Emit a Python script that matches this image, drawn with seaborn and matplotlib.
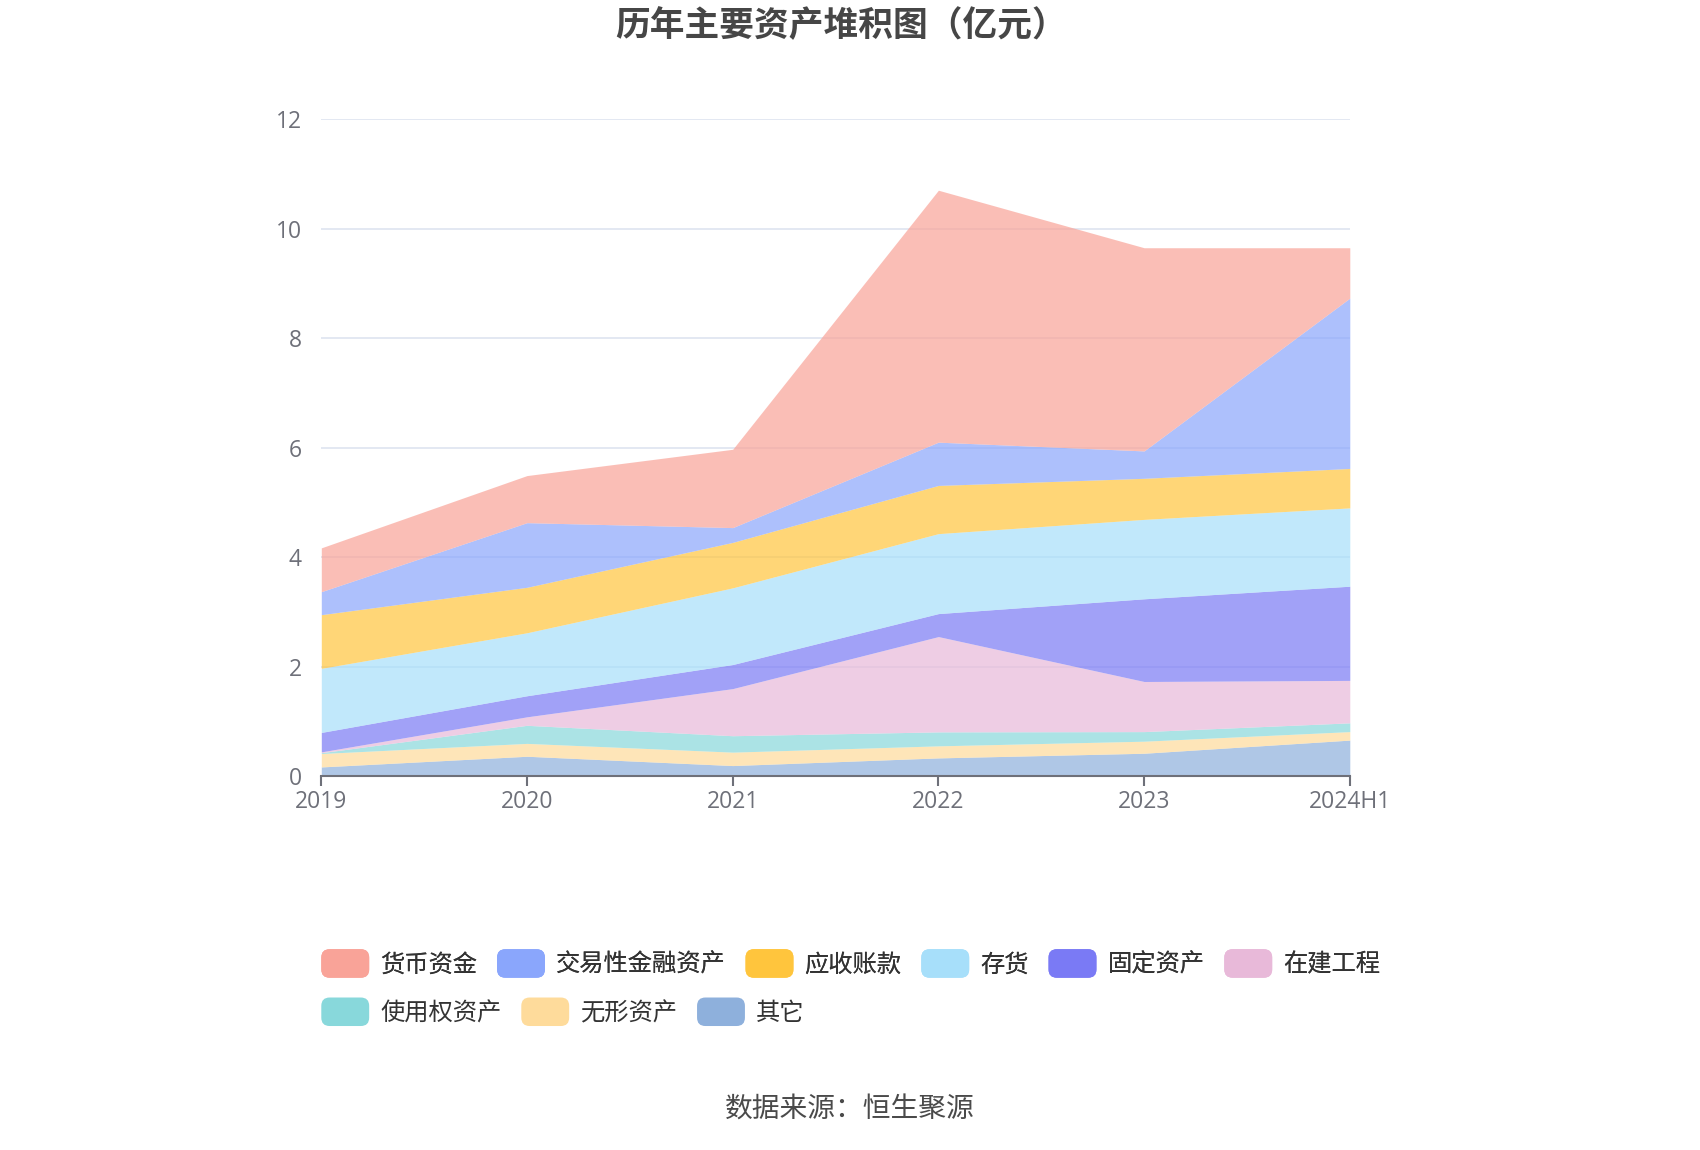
"""
历年主要资产堆积图 - stacked area chart of main assets by year.
"""

import matplotlib
matplotlib.use("Agg")
import matplotlib.pyplot as plt
from matplotlib.patches import FancyBboxPatch, Patch
from matplotlib.legend_handler import HandlerPatch
import seaborn as sns

years = ["2019", "2020", "2021", "2022", "2023", "2024H1"]

# values in 亿元, bottom of the stack first
other = [0.17, 0.365, 0.195, 0.335, 0.42, 0.66]
intangible = [0.245, 0.235, 0.245, 0.22, 0.22, 0.155]
right_of_use = [0.015, 0.33, 0.30, 0.255, 0.175, 0.16]
construction = [0.015, 0.155, 0.86, 1.74, 0.915, 0.775]
fixed_assets = [0.355, 0.385, 0.44, 0.42, 1.51, 1.72]
inventory = [1.17, 1.15, 1.40, 1.46, 1.45, 1.43]
receivables = [0.98, 0.83, 0.83, 0.88, 0.75, 0.72]
trading_fin = [0.42, 1.18, 0.27, 0.79, 0.50, 3.11]
cash = [0.80, 0.86, 1.43, 4.60, 3.71, 0.92]

series_names = ["其它", "无形资产", "使用权资产", "在建工程", "固定资产",
                "存货", "应收账款", "交易性金融资产", "货币资金"]
series_values = [other, intangible, right_of_use, construction, fixed_assets,
                 inventory, receivables, trading_fin, cash]
series_colors = ["#8eb0dc", "#fedb9b", "#88d8db", "#e8b9d9", "#7a7af5",
                 "#a7dffa", "#ffc53d", "#8aa6fc", "#f9a398"]

legend_row1 = ["货币资金", "交易性金融资产", "应收账款", "存货", "固定资产", "在建工程"]
legend_row2 = ["使用权资产", "无形资产", "其它"]


class RoundHandler(HandlerPatch):
    def create_artists(self, legend, orig_handle, xdescent, ydescent,
                       width, height, fontsize, trans):
        p = FancyBboxPatch((-xdescent, -ydescent - 3), width, height + 6,
                           boxstyle="round,pad=0,rounding_size=6",
                           facecolor=orig_handle.get_facecolor(),
                           edgecolor="none", transform=trans)
        return [p]


def main():
    sns.set_theme(style="white")
    plt.rcParams["font.family"] = ["Noto Sans CJK SC", "DejaVu Sans"]
    palette = sns.color_palette(series_colors)

    fig = plt.figure(figsize=(17, 11.5), dpi=100)
    ax = fig.add_axes([0.189, 0.325, 0.605, 0.5715])

    x = list(range(len(years)))
    ax.stackplot(x, *series_values, colors=palette, alpha=0.7,
                 linewidth=0, zorder=2)

    ax.set_xlim(0, len(years) - 1)
    ax.set_ylim(0, 12)
    ax.set_yticks(range(0, 13, 2))
    ax.set_xticks(x)
    ax.set_xticklabels(years)
    ax.yaxis.grid(True, color="#e0e6f1", linewidth=1.3, zorder=1)
    ax.set_axisbelow(True)
    for s in ["top", "right", "left"]:
        ax.spines[s].set_visible(False)
    ax.spines["bottom"].set_color("#6e7079")
    ax.spines["bottom"].set_linewidth(1.5)
    ax.spines["bottom"].set_zorder(3)
    ax.tick_params(axis="x", colors="#6e7079", labelsize=16.5, length=7,
                   width=1.5, direction="out", bottom=True, pad=3)
    ax.tick_params(axis="y", colors="#6e7079", labelsize=16.5, length=0, pad=14)
    for lbl in ax.get_xticklabels() + ax.get_yticklabels():
        lbl.set_color("#6e7079")
        lbl.set_family(["Open Sans", "DejaVu Sans"])

    fig.text(0.495, 0.978, "历年主要资产堆积图（亿元）", ha="center", va="center",
             fontsize=25, fontweight="bold", color="#464646")

    color_of = dict(zip(series_names, palette))
    handler = {Patch: RoundHandler()}
    common = dict(frameon=False, fontsize=17.5, handlelength=1.97,
                  handleheight=0.9, handletextpad=0.45, columnspacing=0.82,
                  borderaxespad=0, borderpad=0, handler_map=handler,
                  labelcolor="#333333")
    h1 = [Patch(facecolor=color_of[n], label=n) for n in legend_row1]
    h2 = [Patch(facecolor=color_of[n], label=n) for n in legend_row2]
    leg1 = fig.legend(handles=h1, ncol=6, loc="center left",
                      bbox_to_anchor=(0.189, 0.161), **common)
    fig.legend(handles=h2, ncol=3, loc="center left",
               bbox_to_anchor=(0.189, 0.119), **common)
    fig.add_artist(leg1)

    fig.text(0.5, 0.035, "数据来源：恒生聚源", ha="center", va="center",
             fontsize=20, color="#4a4a4a")

    fig.savefig("out.png", dpi=100)
    plt.close(fig)


if __name__ == "__main__":
    main()
